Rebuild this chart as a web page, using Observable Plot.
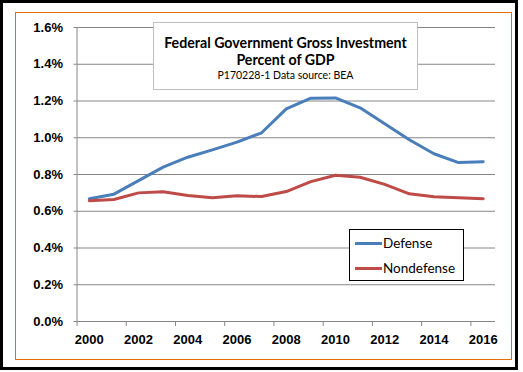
<!DOCTYPE html>
<html>
<head>
<meta charset="utf-8">
<script src="https://cdn.jsdelivr.net/npm/d3@7"></script>
<script src="https://cdn.jsdelivr.net/npm/@observablehq/plot@0.6"></script>
<style>
  html, body { margin: 0; padding: 0; background: #fff; }
  #wrap { position: relative; width: 523px; height: 372px; overflow: hidden; }
  .abs { position: absolute; box-sizing: border-box; }
  #outer { left: 0; top: 0; width: 518px; height: 370px; border: 3px solid #000; }
  #orange { left: 15px; top: 12px; width: 497px; height: 348px; border: 1.5px solid #E46C0A; }
  #titlebox { left: 153px; top: 22px; width: 265px; height: 68px; border: 1px solid #BFBFBF; background: #fff;
    text-align: center; font-family: Lato, "Open Sans", sans-serif; color: #000; white-space: nowrap; }
  #titlebox .t { font-weight: bold; font-size: 14.2px; line-height: 17px; }
  #titlebox .s { font-size: 10.5px; line-height: 13px; margin-top: 1px; }
  #legend { left: 349px; top: 229px; width: 115px; height: 52px; border: 1px solid #000; background: #fff;
    font-family: Lato, "Open Sans", sans-serif; font-size: 13.5px; color: #000; white-space: nowrap; }
  .li { position: absolute; left: 5px; height: 16px; display: flex; align-items: center; }
  .sw { width: 27px; height: 3px; margin-right: 1px; }
</style>
</head>
<body>
<div id="wrap">
  <div id="outer" class="abs"></div>
  <div id="orange" class="abs"></div>
  <div id="chart" class="abs" style="left:0;top:0"></div>
  <div id="titlebox" class="abs">
    <div class="t" style="margin-top:11px">Federal Government Gross Investment</div>
    <div class="t">Percent of GDP</div>
    <div class="s">P170228-1 Data source: BEA</div>
  </div>
  <div id="legend" class="abs"></div>
</div>
<script>
const years = [2000,2001,2002,2003,2004,2005,2006,2007,2008,2009,2010,2011,2012,2013,2014,2015,2016];
const defense    = [0.668,0.693,0.767,0.840,0.894,0.934,0.976,1.027,1.157,1.215,1.217,1.163,1.076,0.989,0.913,0.865,0.869];
const nondefense = [0.657,0.664,0.700,0.706,0.686,0.673,0.684,0.680,0.707,0.761,0.796,0.785,0.746,0.695,0.679,0.673,0.668];
const seriesNames = ["Defense", "Nondefense"];
const seriesColors = ["#4A7EBB", "#BE4B48"];
const yTicks = [0, 0.2, 0.4, 0.6, 0.8, 1.0, 1.2, 1.4, 1.6];
const xLabelYears = [2000, 2002, 2004, 2006, 2008, 2010, 2012, 2014, 2016];
const xTickBounds = [1999.5, 2001.5, 2003.5, 2005.5, 2007.5, 2009.5, 2011.5, 2013.5, 2015.5];

const data = years.flatMap((yr, i) => [
  {year: yr, series: seriesNames[0], value: defense[i]},
  {year: yr, series: seriesNames[1], value: nondefense[i]}
]);

const grid = "#868686";
const chart = Plot.plot({
  width: 523,
  height: 372,
  marginLeft: 76.5,
  marginRight: 28,
  marginTop: 27,
  marginBottom: 51,
  style: {fontFamily: "'Liberation Sans', Arial, sans-serif", fontSize: "13px", fontWeight: "bold", color: "#000", background: "transparent"},
  x: {domain: [1999.5, 2016.5], axis: null},
  y: {domain: [0, 1.6], axis: null},
  color: {domain: seriesNames, range: seriesColors},
  marks: [
    Plot.ruleY(yTicks, {stroke: grid, strokeWidth: 1}),
    Plot.ruleX([1999.5], {stroke: grid, strokeWidth: 1}),
    Plot.axisY({ticks: yTicks, tickSize: 3, tickPadding: 11, stroke: grid, label: null, tickFormat: d => d.toFixed(1) + "%"}),
    Plot.axisX({ticks: xTickBounds, tickSize: 5, stroke: grid, label: null, tickFormat: () => ""}),
    Plot.axisX({ticks: xLabelYears, tickSize: 0, tickPadding: 13, label: null, tickFormat: d => String(d)}),
    Plot.line(data, {x: "year", y: "value", stroke: "series", strokeWidth: 3, curve: "linear"})
  ]
});
document.getElementById("chart").appendChild(chart);

const leg = document.getElementById("legend");
seriesNames.forEach((name, i) => {
  const row = document.createElement("div");
  row.className = "li";
  row.style.top = (i === 0 ? 5 : 30) + "px";
  const sw = document.createElement("div");
  sw.className = "sw";
  sw.style.background = seriesColors[i];
  const tx = document.createElement("span");
  tx.textContent = name;
  row.appendChild(sw);
  row.appendChild(tx);
  leg.appendChild(row);
});
</script>
</body>
</html>
